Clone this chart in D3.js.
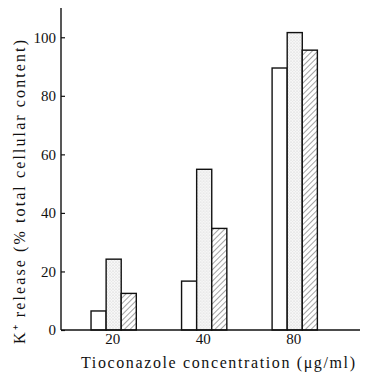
<!DOCTYPE html>
<html>
<head>
<meta charset="utf-8">
<script src="https://cdn.jsdelivr.net/npm/d3@7"></script>
<style>
  body { margin: 0; background: #fff; }
</style>
</head>
<body>
<div class="chartWrap"></div>
<script>
//Data
const concentrations = ["20", "40", "80"];
const seriesNames = ["open", "dotted", "hatched"];
const openVals = [6.5, 16.7, 89.5];
const dottedVals = [24.2, 54.9, 101.6];
const hatchedVals = [12.5, 34.7, 95.6];
const yTicks = [0, 20, 40, 60, 80, 100];

//Layout
const w = 377, h = 377;
const margin = {top: 8, right: 17, bottom: 47, left: 61};
const font = "Liberation Serif";

let svg = d3.select(".chartWrap").append("svg").attr("width", w).attr("height", h)
  .attr("font-family", font);
let defs = svg.append("defs");

//Patterns
let dots = defs.append("pattern").attr("id", "dots").attr("patternUnits", "userSpaceOnUse")
  .attr("width", 3).attr("height", 3);
dots.append("rect").attr("width", 3).attr("height", 3).attr("fill", "#f7f7f7");
dots.append("circle").attr("cx", 1).attr("cy", 1).attr("r", 0.6).attr("fill", "#c4c4c4");
dots.append("circle").attr("cx", 2.5).attr("cy", 2.5).attr("r", 0.4).attr("fill", "#d4d4d4");

let hatch = defs.append("pattern").attr("id", "hatch").attr("patternUnits", "userSpaceOnUse")
  .attr("width", 4).attr("height", 4).attr("patternTransform", "rotate(45)");
hatch.append("rect").attr("width", 4).attr("height", 4).attr("fill", "#fff");
hatch.append("line").attr("x1", 0).attr("y1", 0).attr("x2", 0).attr("y2", 4)
  .attr("stroke", "#333").attr("stroke-width", 0.9);

const fills = {open: "#fff", dotted: "url(#dots)", hatched: "url(#hatch)"};

//Scales
let y = d3.scaleLinear().domain([0, 110]).range([330, margin.top]);
let x0 = d3.scaleBand().domain(concentrations).range([68.4, 340]).paddingInner(0.5).paddingOuter(0.25);
let x1 = d3.scaleBand().domain(seriesNames).range([0, x0.bandwidth()]);

let rows = concentrations.map((c, i) => ({
  c: c,
  vals: [
    {s: "open", v: openVals[i]},
    {s: "dotted", v: dottedVals[i]},
    {s: "hatched", v: hatchedVals[i]}
  ]
}));

//Bars
let groups = svg.selectAll(".grp").data(rows).enter().append("g")
  .attr("class", "grp")
  .attr("transform", d => "translate(" + x0(d.c) + ",0)");
groups.selectAll("rect").data(d => d.vals).enter().append("rect")
  .attr("x", d => x1(d.s))
  .attr("y", d => y(d.v))
  .attr("width", x1.bandwidth())
  .attr("height", d => y(0) - y(d.v))
  .attr("fill", d => fills[d.s])
  .attr("stroke", "#111").attr("stroke-width", 1.4);

//Y axis
let yAxis = svg.append("g").attr("transform", "translate(" + margin.left + ",0)")
  .call(d3.axisRight(y).tickValues(yTicks).tickSize(4).tickFormat(d3.format("d")));
yAxis.attr("font-family", font).attr("font-size", 15);
yAxis.select(".domain").attr("d", "M0," + y(0) + "V" + margin.top).attr("stroke", "#111").attr("stroke-width", 1.4);
yAxis.selectAll(".tick line").attr("stroke", "#111").attr("stroke-width", 1.2);
yAxis.selectAll(".tick text").attr("x", -5).attr("text-anchor", "end")
  .attr("font-family", font).attr("font-size", 15).attr("fill", "#111");

//X axis baseline
svg.append("line").attr("x1", margin.left).attr("x2", w - margin.right)
  .attr("y1", y(0)).attr("y2", y(0)).attr("stroke", "#111").attr("stroke-width", 1.4);

//X tick labels
svg.selectAll(".xlab").data(concentrations).enter().append("text")
  .attr("class", "xlab")
  .attr("x", d => x0(d) + x0.bandwidth() / 2 - 1)
  .attr("y", 344)
  .attr("text-anchor", "middle").attr("font-family", font).attr("font-size", 15).attr("fill", "#111")
  .text(d => d);

//Axis titles
svg.append("text").attr("x", 218).attr("y", 368).attr("text-anchor", "middle")
  .attr("font-family", font).attr("font-size", 16).attr("fill", "#111")
  .attr("textLength", 274).attr("lengthAdjust", "spacing")
  .text("Tioconazole concentration (\u03bcg/ml)");

svg.append("text").attr("transform", "translate(25,192) rotate(-90)")
  .attr("text-anchor", "middle").attr("font-family", font).attr("font-size", 16).attr("fill", "#111")
  .attr("textLength", 304).attr("lengthAdjust", "spacing")
  .text("K\u207a release (% total cellular content)");
</script>
</body>
</html>
